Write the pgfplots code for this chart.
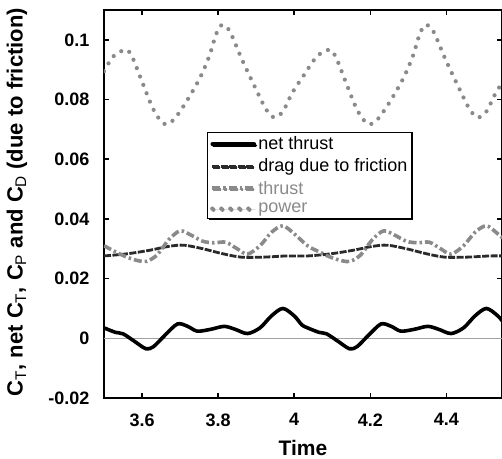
\documentclass[border=0pt]{standalone}
\usepackage{fontspec}
\setmainfont{Liberation Sans}
\usepackage{pgfplots}
\pgfplotsset{compat=1.18}
\usetikzlibrary{calc,shadows}
\definecolor{lgray}{HTML}{8A8A8A}
\definecolor{dgray}{HTML}{2A2A2A}
\begin{document}
\begin{tikzpicture}
\begin{axis}[
  at={(0,0)}, anchor=south west,
  scale only axis,
  width=398bp, height=388bp,
  xmin=3.5, xmax=4.546,
  ymin=-0.02, ymax=0.11,
  xtick={3.6,3.8,4,4.2,4.4},
  ytick={-0.02,0,0.02,0.04,0.06,0.08,0.1},
  scaled y ticks=false,
  scaled x ticks=false,
  yticklabel style={/pgf/number format/fixed,/pgf/number format/precision=2},
  /pgf/number format/assume math mode=true,
  tick label style={font=\fontsize{18bp}{20bp}\selectfont\bfseries},
  xticklabel style={yshift=-12bp},
  yticklabel style={xshift=-11bp},
  tick align=inside,
  major tick length=5bp,
  axis line style={line width=2.5bp},
  major tick style={line width=1.5bp, black},
  xlabel={Time},
  xlabel style={font=\fontsize{21bp}{23bp}\selectfont\bfseries, at={(axis description cs:0.5,-0.129)}, anchor=center},
  ylabel={C$_{\mathrm{T}}$, net C$_{\mathrm{T}}$, C$_{\mathrm{P}}$ and C$_{\mathrm{D}}$ (due to friction)},
  ylabel style={font=\fontsize{22bp}{24bp}\selectfont\bfseries, at={(axis description cs:-0.2186,0.505)}, anchor=center},
  legend style={at={(0.259,0.686)}, anchor=north west, draw=black, line width=1.2bp,
    font=\fontsize{18bp}{19bp}\selectfont, inner sep=2.5bp, row sep=3.5bp,
    cells={anchor=west},
    drop shadow={shadow xshift=1.2bp, shadow yshift=-1.2bp, fill=black, opacity=1}},
  legend image code/.code={\draw[#1] (0bp,0bp) -- (42bp,0bp);},
  legend cell align=left,
  clip=true,
]
\addplot[lgray!80, line width=0.8bp, forget plot] coordinates {(3.5,0) (4.6,0)};
% net thrust
\addplot[black, line width=3.6bp, smooth, tension=0.5, line cap=round] coordinates {
(3.500,0.0035)(3.530,0.0020)(3.550,0.0015)(3.580,-0.0010)(3.610,-0.0035)(3.630,-0.0028)
(3.660,0.0010)(3.693,0.0048)(3.720,0.0040)(3.745,0.0024)(3.780,0.0030)(3.816,0.0040)
(3.845,0.0030)(3.877,0.0016)(3.910,0.0035)(3.940,0.0075)(3.970,0.0100)(4.000,0.0075)
(4.020,0.0045)
(4.035,0.0035)(4.065,0.0020)(4.085,0.0015)(4.115,-0.0010)(4.145,-0.0035)(4.165,-0.0028)
(4.195,0.0010)(4.228,0.0048)(4.255,0.0040)(4.280,0.0024)(4.315,0.0030)(4.351,0.0040)
(4.380,0.0030)(4.412,0.0016)(4.445,0.0035)(4.475,0.0075)(4.505,0.0100)(4.535,0.0075)
(4.555,0.0045)};
\addlegendentry{net thrust}
% drag due to friction
\addplot[dgray, line width=2.8bp, smooth, tension=0.5, dash pattern=on 7bp off 1.5bp] coordinates {
(3.500,0.0276)(3.560,0.0283)(3.620,0.0295)(3.670,0.0308)(3.710,0.0312)(3.760,0.0300)
(3.810,0.0284)(3.860,0.0272)(3.920,0.0272)(3.980,0.0276)
(4.035,0.0276)(4.095,0.0283)(4.155,0.0295)(4.205,0.0308)(4.245,0.0312)(4.295,0.0300)
(4.345,0.0284)(4.395,0.0272)(4.455,0.0272)(4.515,0.0276)(4.570,0.0276)};
\addlegendentry{drag due to friction}
% thrust
\addplot[lgray, line width=3.6bp, smooth, tension=0.5, dash pattern=on 8bp off 3bp on 2.5bp off 3bp] coordinates {
(3.500,0.0310)(3.530,0.0290)(3.560,0.0272)(3.590,0.0260)(3.613,0.0258)(3.640,0.0280)
(3.670,0.0330)(3.700,0.0360)(3.730,0.0345)(3.760,0.0325)(3.790,0.0320)(3.820,0.0322)
(3.850,0.0300)(3.877,0.0282)(3.910,0.0310)(3.940,0.0355)(3.970,0.0377)(4.000,0.0350)
(4.035,0.0310)(4.065,0.0290)(4.095,0.0272)(4.125,0.0260)(4.148,0.0258)(4.175,0.0280)
(4.205,0.0330)(4.235,0.0360)(4.265,0.0345)(4.295,0.0325)(4.325,0.0320)(4.355,0.0322)
(4.385,0.0300)(4.412,0.0282)(4.445,0.0310)(4.475,0.0355)(4.505,0.0377)(4.535,0.0350)
(4.570,0.0310)};
\addlegendentry{\textcolor{lgray}{thrust}}
% power
\addplot[lgray, line width=4.2bp, smooth, tension=0.5, line cap=round, dash pattern=on 0bp off 9bp] coordinates {
(3.500,0.0895)(3.525,0.0945)(3.558,0.0967)(3.575,0.0940)(3.600,0.0860)(3.626,0.0777)
(3.645,0.0735)(3.663,0.0717)(3.685,0.0735)(3.715,0.0790)(3.750,0.0867)(3.776,0.0943)
(3.795,0.1020)(3.810,0.1050)(3.830,0.1030)(3.863,0.0933)(3.900,0.0833)(3.926,0.0767)
(3.947,0.0740)(3.970,0.0760)(3.995,0.0823)(4.026,0.0883)
(4.060,0.0945)(4.093,0.0967)(4.110,0.0940)(4.135,0.0860)(4.161,0.0777)
(4.180,0.0735)(4.198,0.0717)(4.220,0.0735)(4.250,0.0790)(4.285,0.0867)(4.311,0.0943)
(4.330,0.1020)(4.345,0.1050)(4.365,0.1030)(4.398,0.0933)(4.435,0.0833)(4.461,0.0767)
(4.482,0.0740)(4.505,0.0760)(4.530,0.0823)(4.561,0.0883)};
\addlegendentry{\textcolor{lgray}{power}}
\end{axis}
\pgfresetboundingbox
\path[use as bounding box] (-104bp,-61bp) rectangle (398bp,398bp);
\end{tikzpicture}
\end{document}
